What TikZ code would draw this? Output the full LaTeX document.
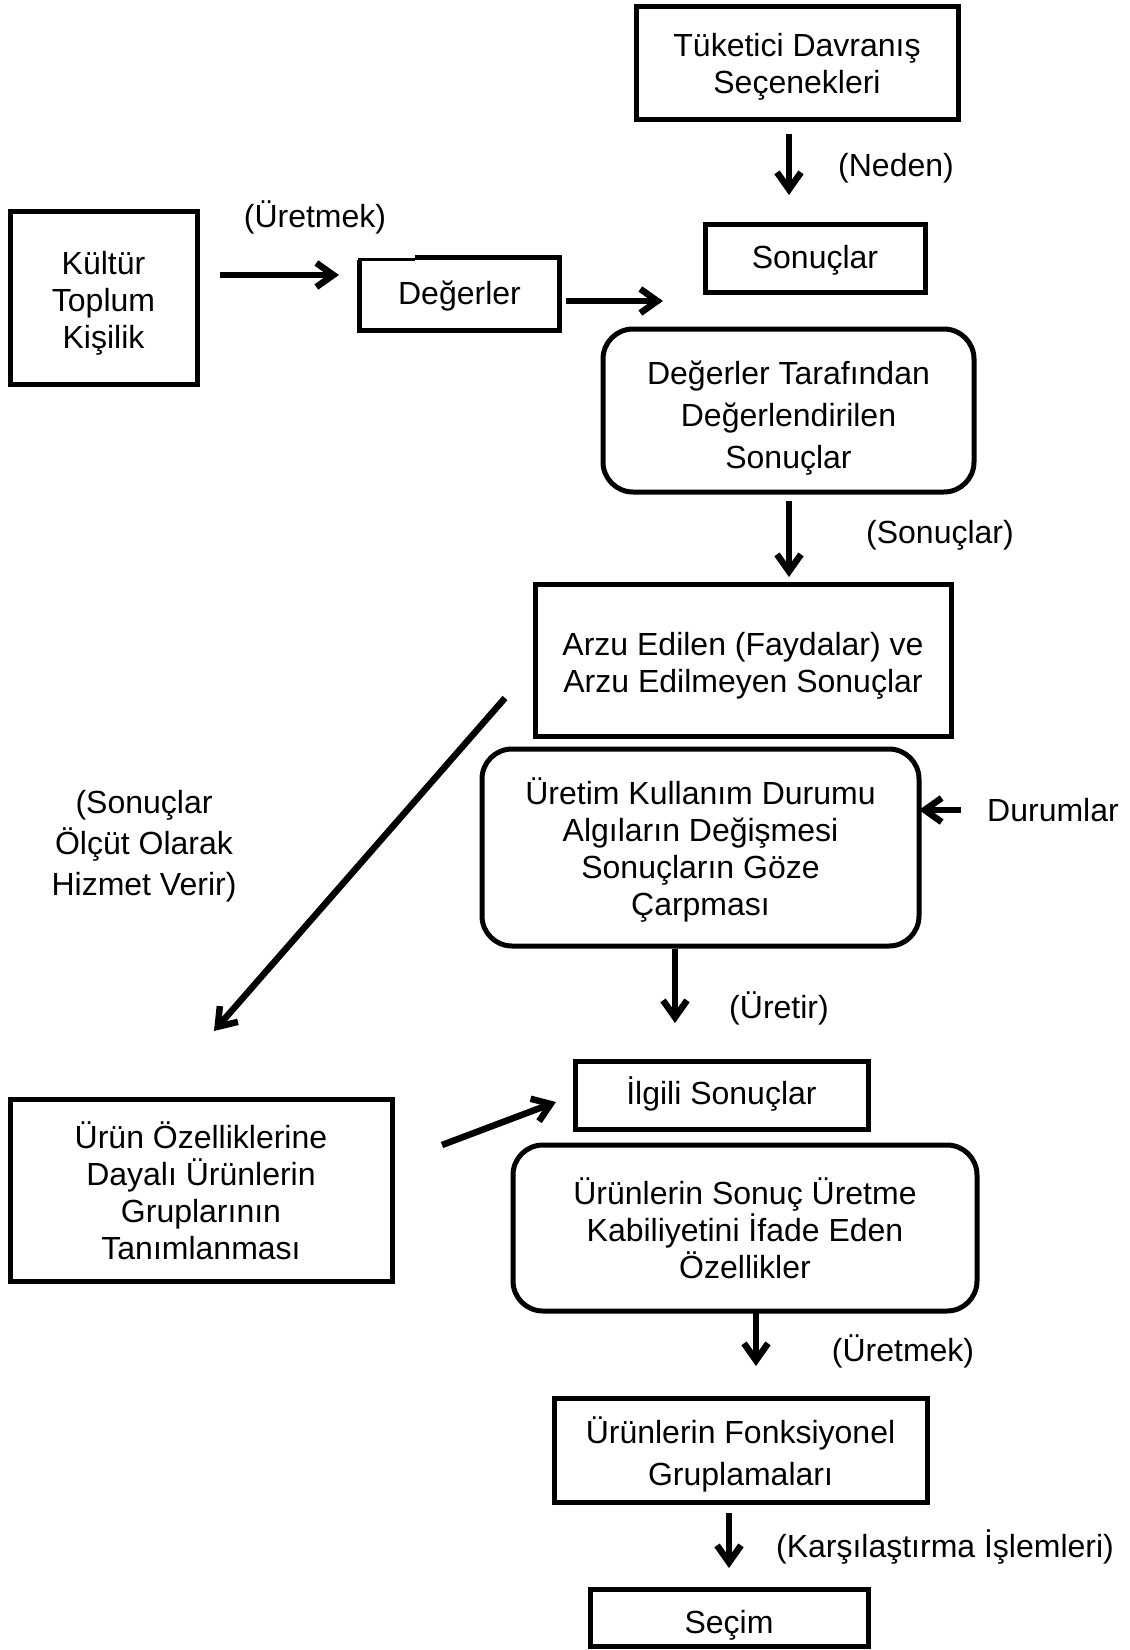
\documentclass[tikz,border=0pt]{standalone}
\usepackage{fontspec}
\setmainfont{Liberation Sans}
\usetikzlibrary{arrows.meta}
\begin{document}
\begin{tikzpicture}[x=1pt,y=-1pt,
  frame/.style={draw, line width=5pt, inner sep=0pt},
  rframe/.style={frame, rounded corners=30pt},
  txt/.style={align=center, inner sep=0pt, font=\fontsize{32}{37}\selectfont},
  arr/.style={line width=6.5pt, -{Straight Barb[length=17pt,width=24pt]}}]
\useasboundingbox (0,0) rectangle (1130,1650);

% boxes
\node[frame, minimum width=322pt, minimum height=113pt] (tuk) at (797,62.5) {};
\node[frame, minimum width=220pt, minimum height=68pt] (son) at (815,258) {};
\node[frame, minimum width=187pt, minimum height=173pt] (kul) at (103.5,297.5) {};
\node[frame, draw=none, minimum width=195pt, minimum height=68pt] (deg) at (459.5,294) {};
\draw[line width=5pt, line join=miter] ([xshift=55pt]deg.north west) -- (deg.north east) -- (deg.south east) -- (deg.south west) -- ([yshift=-2pt]deg.north west);
\draw[line width=3pt] ([xshift=-2pt,yshift=-2pt]deg.north west) -- ([xshift=55pt,yshift=-2pt]deg.north west);
\node[rframe, minimum width=371pt, minimum height=163pt] (dtd) at (788.5,410.5) {};
\node[frame, minimum width=416pt, minimum height=152pt] (arzu) at (743,660) {};
\node[rframe, minimum width=437pt, minimum height=197pt] (uret) at (700.5,847.5) {};
\node[frame, minimum width=382pt, minimum height=182pt] (urun) at (201,1190) {};
\node[frame, minimum width=293pt, minimum height=68pt] (ilg) at (721.5,1095) {};
\node[rframe, minimum width=464pt, minimum height=166pt] (urs) at (745,1228) {};
\node[frame, minimum width=373pt, minimum height=104pt] (fonk) at (740.5,1450) {};
\node[frame, minimum width=278pt, minimum height=57pt] (sec) at (729,1617.5) {};

% box texts
\node[txt] (tukT) at (797,66.7) {Tüketici Davranış\\Seçenekleri};
\node[txt] (sonT) at (815,260) {Sonuçlar};
\node[txt] (kulT) at (103.5,303.5) {Kültür\\Toplum\\Kişilik};
\node[txt] (degT) at (459.5,296) {Değerler};
\node[txt, font=\fontsize{32}{42}\selectfont] (dtdT) at (788.5,418) {Değerler Tarafından\\Değerlendirilen\\Sonuçlar};
\node[txt] (arzuT) at (743,665.3) {Arzu Edilen (Faydalar) ve\\Arzu Edilmeyen Sonuçlar};
\node[txt] (uretT) at (700.5,849.6) {Üretim Kullanım Durumu\\Algıların Değişmesi\\Sonuçların Göze\\Çarpması};
\node[txt] (urunT) at (201,1191) {Ürün Özelliklerine\\Dayalı Ürünlerin\\Gruplarının\\Tanımlanması};
\node[txt] (ilgT) at (721.5,1094) {İlgili Sonuçlar};
\node[txt] (ursT) at (745,1228) {Ürünlerin Sonuç Üretme\\Kabiliyetini İfade Eden\\Özellikler};
\node[txt, font=\fontsize{32}{42}\selectfont] (fonkT) at (740.5,1454) {Ürünlerin Fonksiyonel\\Gruplamaları};
\node[txt] (secT) at (729,1625) {Seçim};

% labels
\node[txt] (lneden) at (896,168) {(Neden)};
\node[txt] (luret1) at (315,217) {(Üretmek)};
\node[txt] (lson) at (940,535) {(Sonuçlar)};
\node[txt, font=\fontsize{32}{41}\selectfont] (lolcut) at (144,846) {(Sonuçlar\\Ölçüt Olarak\\Hizmet Verir)};
\node[txt] (ldur) at (1053,810) {Durumlar};
\node[txt] (luretir) at (779,1008) {(Üretir)};
\node[txt] (luret2) at (903,1351) {(Üretmek)};
\node[txt] (lkars) at (945,1547) {(Karşılaştırma İşlemleri)};

% arrow end points
\coordinate (a1s) at (789,134);  \coordinate (a1e) at (789,195);
\coordinate (a2s) at (220,275);  \coordinate (a2e) at (339,275);
\coordinate (a3s) at (566,301);  \coordinate (a3e) at (663,301);
\coordinate (a4s) at (789,501);  \coordinate (a4e) at (789,577);
\coordinate (a5s) at (505,698);  \coordinate (a5e) at (214,1031);
\coordinate (a6s) at (961,810);  \coordinate (a6e) at (919,810);
\coordinate (a7s) at (675,949);  \coordinate (a7e) at (675,1023);
\coordinate (a8s) at (442,1145); \coordinate (a8e) at (556,1102);
\coordinate (a9s) at (756,1313); \coordinate (a9e) at (756,1366);
\coordinate (a10s) at (729,1513); \coordinate (a10e) at (729,1568);

\draw[arr] (a1s) -- (a1e);
\draw[arr] (a2s) -- (a2e);
\draw[arr] (a3s) -- (a3e);
\draw[arr] (a4s) -- (a4e);
\draw[arr] (a5s) -- (a5e);
\draw[arr] (a6s) -- (a6e);
\draw[arr] (a7s) -- (a7e);
\draw[arr] (a8s) -- (a8e);
\draw[arr] (a9s) -- (a9e);
\draw[arr] (a10s) -- (a10e);
\end{tikzpicture}
\end{document}
